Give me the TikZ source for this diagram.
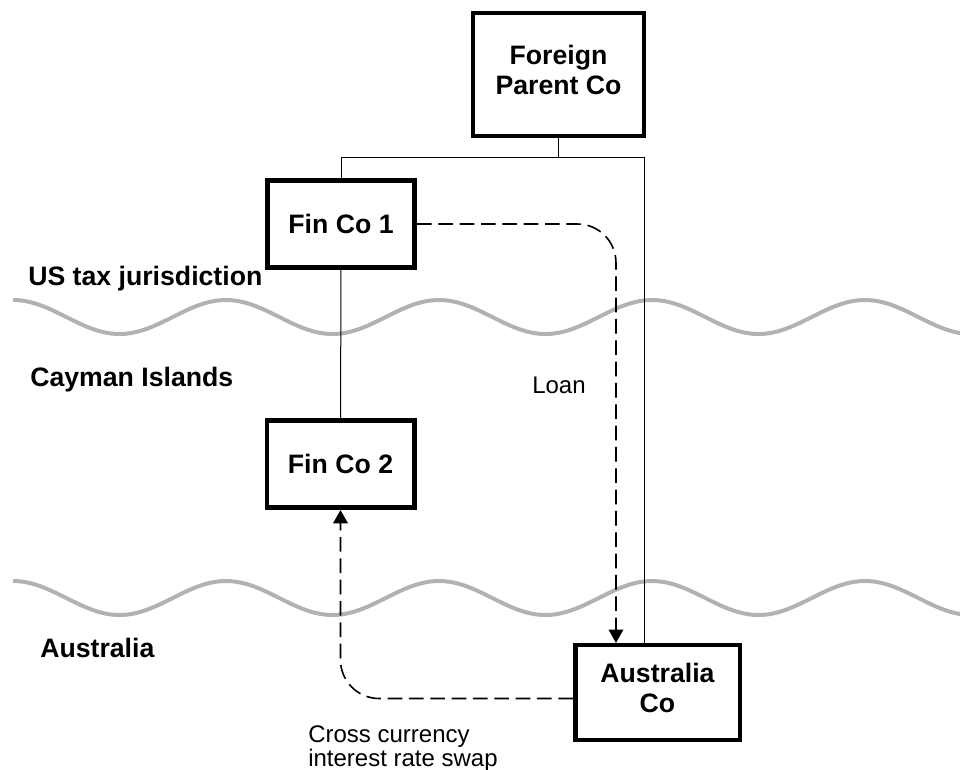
\documentclass[tikz,border=0pt]{standalone}
\usepackage{fontspec}
\setmainfont{Liberation Sans}
\usetikzlibrary{arrows.meta,calc}

\tikzset{
  entity/.style={draw, line width=3.4pt, align=center, inner sep=0pt,
    font=\fontsize{20}{22.5}\selectfont\bfseries},
  link/.style={line width=0.75pt},
  flow/.style={line width=1.2pt, dash pattern=on 11pt off 5pt,
    rounded corners=29pt, -{Triangle[width=11pt,length=10pt]}},
  region/.style={anchor=base west, inner sep=0pt,
    font=\fontsize{20}{22.5}\selectfont\bfseries},
  note/.style={anchor=base west, inner sep=0pt, align=left,
    font=\fontsize{18}{18}\selectfont},
  wave/.style={line width=3pt, black!30}
}

\begin{document}
\begin{tikzpicture}[x=0.75pt, y=-0.75pt]
  \useasboundingbox (0,0) rectangle (960,769);

  % Jurisdiction borders (one quarter wave = 53.25)
  \draw[wave] (13, 300) \foreach \k in {1,...,4} {
      cos ++(53.25, 17) sin ++(53.25, 17) cos ++(53.25, -17) sin ++(53.25, -17)}
    cos ++(53.25, 17) sin ++(53.25, 17);
  \draw[wave] (13, 581) \foreach \k in {1,...,4} {
      cos ++(53.25, 17) sin ++(53.25, 17) cos ++(53.25, -17) sin ++(53.25, -17)}
    cos ++(53.25, 17) sin ++(53.25, 17);

  % Region names
  \node[region] (us)     at (28, 285) {US tax jurisdiction};
  \node[region] (cayman) at (30, 386) {Cayman Islands};
  \node[region] (aus)    at (40, 657) {Australia};

  % Companies
  \node[entity, minimum width=128pt, minimum height=92pt] (fp)
    at (558.5, 74.5) {Foreign\\Parent Co\strut};
  \node[entity, minimum width=110.6pt, minimum height=65.6pt] (fin1)
    at (341, 224) {Fin Co 1};
  \node[entity, minimum width=110.6pt, minimum height=65.6pt] (fin2)
    at (340.5, 464) {Fin Co 2};
  \node[entity, minimum width=123.4pt, minimum height=71pt] (ausco)
    at (657.5, 692.5) {Australia\\Co\strut};

  % Ownership
  \coordinate (drop) at (644, 157);
  \draw[link] (fp.south) -- (fp.south |- drop);
  \draw[link] (fin1.north) |- (drop) -- (drop |- ausco.north);
  \draw[link] (fin1) -- (fin2);

  % Loan
  \coordinate (loanin) at ($(ausco.north west)+(43,0)$);
  \draw[flow] (fin1.east) -| (loanin);
  \node[note] (loan) at (532, 393) {Loan};

  % Swap
  \draw[flow] ($(ausco.west)+(0,6)$) -| (fin2.south);
  \node[note] (swap) at (308, 766) {Cross currency\\interest rate swap};
\end{tikzpicture}
\end{document}
